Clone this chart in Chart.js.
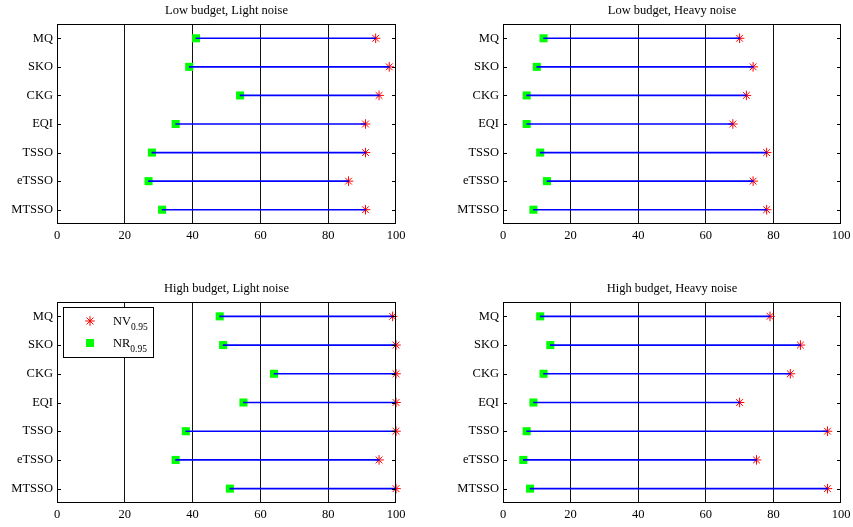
<!DOCTYPE html>
<html>
<head>
<meta charset="utf-8">
<script src="https://cdn.jsdelivr.net/npm/chart.js"></script>
<style>
  html, body { margin: 0; padding: 0; background: #fff; }
  body { width: 853px; height: 527px; position: relative; overflow: hidden; }
  canvas { position: absolute; }
</style>
</head>
<body>
<canvas id="c1"></canvas>
<canvas id="c2"></canvas>
<canvas id="c3"></canvas>
<canvas id="c4"></canvas>
<script>
// Methods, listed top to bottom
const categories = ['MQ', 'SKO', 'CKG', 'EQI', 'TSSO', 'eTSSO', 'MTSSO'];
const xTickValues = [0, 20, 40, 60, 80, 100];

// NV_0.95 (red asterisks) and NR_0.95 (green squares) per method
const lowLightNV = [94, 98, 95, 91, 91, 86, 91];
const lowLightNR = [41, 39, 54, 35, 28, 27, 31];
const lowHeavyNV = [70, 74, 72, 68, 78, 74, 78];
const lowHeavyNR = [12, 10, 7, 7, 11, 13, 9];
const highLightNV = [99, 100, 100, 100, 100, 95, 100];
const highLightNR = [48, 49, 64, 55, 38, 35, 51];
const highHeavyNV = [79, 88, 85, 70, 96, 75, 96];
const highHeavyNR = [11, 14, 12, 9, 7, 6, 8];

const titles = [
  'Low budget, Light noise',
  'Low budget, Heavy noise',
  'High budget, Light noise',
  'High budget, Heavy noise'
];

const FONT = '"Liberation Serif", "Times New Roman", serif';
const PAD_L = 57, PAD_T = 24, PAD_R = 25, PAD_B = 40;

const panels = [
  { id: 'c1', box: [57, 24, 396, 224], nv: lowLightNV, nr: lowLightNR, title: titles[0], legend: false },
  { id: 'c2', box: [503, 24, 841, 224], nv: lowHeavyNV, nr: lowHeavyNR, title: titles[1], legend: false },
  { id: 'c3', box: [57, 302, 396, 503], nv: highLightNV, nr: highLightNR, title: titles[2], legend: true },
  { id: 'c4', box: [503, 302, 841, 503], nv: highHeavyNV, nr: highHeavyNR, title: titles[3], legend: false }
];

function star(ctx, x, y, r) {
  ctx.beginPath();
  ctx.moveTo(x - r, y); ctx.lineTo(x + r, y);
  ctx.moveTo(x, y - r); ctx.lineTo(x, y + r);
  const d = r * Math.SQRT1_2;
  ctx.moveTo(x - d, y - d); ctx.lineTo(x + d, y + d);
  ctx.moveTo(x - d, y + d); ctx.lineTo(x + d, y - d);
  ctx.stroke();
}

// Frame, inward tick marks, title and (optionally) legend
const framePlugin = {
  id: 'frame',
  afterDraw(chart, args, opts) {
    const ctx = chart.ctx;
    const a = chart.chartArea;
    const ys = chart.scales.y;
    ctx.save();
    ctx.strokeStyle = '#000';
    ctx.lineWidth = 1;
    const L = Math.round(a.left) + 0.5, R = Math.round(a.right) - 0.5;
    const T = Math.round(a.top) + 0.5, B = Math.round(a.bottom) - 0.5;
    ctx.strokeRect(L, T, R - L, B - T);
    ctx.beginPath();
    for (let i = 0; i < categories.length; i++) {
      const y = Math.round(ys.getPixelForTick(i)) + 0.5;
      ctx.moveTo(L, y); ctx.lineTo(L + 3.5, y);
      ctx.moveTo(R, y); ctx.lineTo(R - 3.5, y);
    }
    ctx.stroke();

    ctx.fillStyle = '#000';
    ctx.font = '12.5px ' + FONT;
    ctx.textAlign = 'center';
    ctx.textBaseline = 'alphabetic';
    ctx.fillText(opts.title, (a.left + a.right) / 2, a.top - 10);

    if (opts.legend) {
      const lx = a.left + 6, ly = a.top + 5;
      ctx.fillStyle = '#fff';
      ctx.fillRect(lx, ly, 90, 50);
      ctx.strokeStyle = '#000';
      ctx.strokeRect(Math.round(lx) + 0.5, Math.round(ly) + 0.5, 90, 50);
      ctx.strokeStyle = '#ff0000';
      star(ctx, lx + 27, ly + 14, 4.8);
      ctx.fillStyle = '#00ff00';
      ctx.fillRect(lx + 23, ly + 32, 8, 8);
      ctx.fillStyle = '#000';
      ctx.textAlign = 'left';
      ctx.font = '12.5px ' + FONT;
      const w1 = ctx.measureText('NV').width;
      ctx.fillText('NV', lx + 50, ly + 18);
      const w2 = ctx.measureText('NR').width;
      ctx.fillText('NR', lx + 50, ly + 40);
      ctx.font = '9.5px ' + FONT;
      ctx.fillText('0.95', lx + 50 + w1, ly + 23);
      ctx.fillText('0.95', lx + 50 + w2, ly + 45);
    }
    ctx.restore();
  }
};

panels.forEach(p => {
  const [l, t, r, b] = p.box;
  const cv = document.getElementById(p.id);
  const w = (r - l) + PAD_L + PAD_R;
  const h = (b - t) + PAD_T + PAD_B;
  cv.width = w; cv.height = h;
  cv.style.width = w + 'px'; cv.style.height = h + 'px';
  cv.style.left = (l - PAD_L) + 'px';
  cv.style.top = (t - PAD_T) + 'px';

  new Chart(cv, {
    type: 'bar',
    data: {
      labels: categories,
      datasets: [
        {
          type: 'bar',
          data: categories.map((c, i) => [p.nr[i], p.nv[i]]),
          backgroundColor: '#0000ff',
          borderWidth: 0,
          barThickness: 1,
          order: 0
        },
        {
          type: 'line',
          data: p.nv,
          showLine: false,
          pointStyle: 'star',
          pointRadius: 4.8,
          pointBorderWidth: 1,
          pointBorderColor: '#ff0000',
          pointBackgroundColor: '#ff0000',
          clip: false,
          order: 1
        },
        {
          type: 'line',
          data: p.nr,
          showLine: false,
          pointStyle: 'rect',
          pointRadius: 5.7,
          pointBorderWidth: 0,
          pointBorderColor: '#00ff00',
          pointBackgroundColor: '#00ff00',
          clip: false,
          order: 2
        }
      ]
    },
    options: {
      indexAxis: 'y',
      responsive: false,
      animation: false,
      devicePixelRatio: 1,
      layout: { padding: { left: 0, top: PAD_T, right: PAD_R, bottom: 0 } },
      plugins: {
        legend: { display: false },
        tooltip: { enabled: false },
        frame: { title: p.title, legend: p.legend }
      },
      scales: {
        x: {
          type: 'linear',
          min: 0, max: 100,
          afterBuildTicks(s) { s.ticks = xTickValues.map(v => ({ value: v })); },
          afterFit(s) { s.height = PAD_B; },
          border: { display: false },
          grid: {
            drawTicks: false,
            lineWidth: 1,
            color: c => (c.tick && c.tick.value > 0 && c.tick.value < 100) ? '#111' : 'rgba(0,0,0,0)'
          },
          ticks: { color: '#000', padding: 4, maxRotation: 0, font: { family: FONT, size: 12.5 } }
        },
        y: {
          type: 'category',
          offset: true,
          afterFit(s) { s.width = PAD_L; },
          border: { display: false },
          grid: { display: false, drawTicks: false },
          ticks: { color: '#000', padding: 4, font: { family: FONT, size: 12.5 } }
        }
      }
    },
    plugins: [framePlugin]
  });
});
</script>
</body>
</html>
